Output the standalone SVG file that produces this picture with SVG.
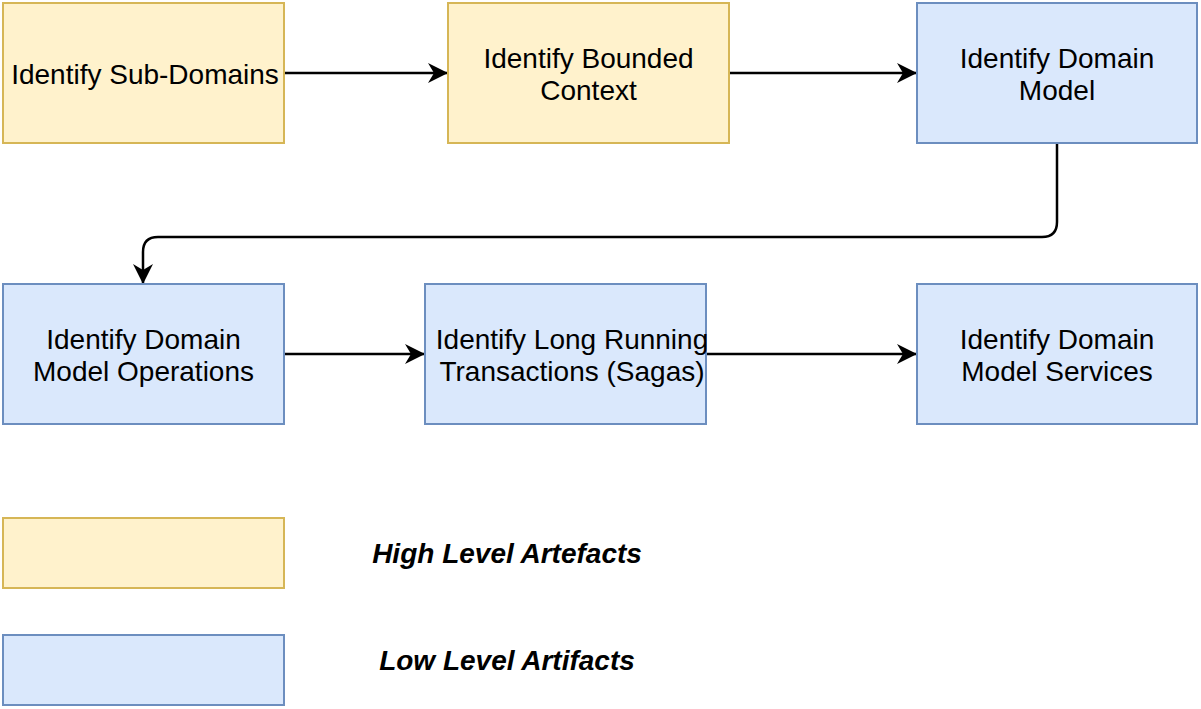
<svg xmlns="http://www.w3.org/2000/svg" width="1201" height="709" viewBox="0 0 1201 709">
<style>
.hi{fill:#fff2cc;stroke:#d6b656;stroke-width:2}
.lo{fill:#dae8fc;stroke:#6c8ebf;stroke-width:2}
.t{font-family:"Liberation Sans",Arial,sans-serif;font-size:28px;fill:#000;text-anchor:middle}
.lg{font-family:"Liberation Sans",Arial,sans-serif;font-size:28px;font-weight:bold;font-style:italic;fill:#000;text-anchor:middle}
.c{fill:none;stroke:#000;stroke-width:2.5}
</style>
<defs>
<marker id="ar" viewBox="0 0 20 20" refX="19" refY="10" markerWidth="20" markerHeight="20" markerUnits="userSpaceOnUse" orient="auto">
<path d="M0,0 L20,10 L0,20 L6,10 Z" fill="#000"/>
</marker>
</defs>
<rect width="1201" height="709" fill="#fff"/>
<g id="connectors">
<path class="c" d="M284,73 L447,73" marker-end="url(#ar)"/>
<path class="c" d="M729,73 L916,73" marker-end="url(#ar)"/>
<path class="c" d="M1057,143 L1057,222 Q1057,237 1042,237 L158,237 Q143,237 143,252 L143,283" marker-end="url(#ar)"/>
<path class="c" d="M284,354 L424,354" marker-end="url(#ar)"/>
<path class="c" d="M706,354 L916,354" marker-end="url(#ar)"/>
</g>
<g id="n1"><rect class="hi" x="3" y="3" width="281" height="140"/><text class="t" x="145" y="84">Identify Sub-Domains</text></g>
<g id="n2"><rect class="hi" x="448" y="3" width="281" height="140"/><text class="t" x="588.5" y="68">Identify Bounded</text><text class="t" x="588.5" y="100">Context</text></g>
<g id="n3"><rect class="lo" x="917" y="3" width="280" height="140"/><text class="t" x="1057" y="68">Identify Domain</text><text class="t" x="1057" y="100">Model</text></g>
<g id="n4"><rect class="lo" x="3" y="284" width="281" height="140"/><text class="t" x="143.5" y="349">Identify Domain</text><text class="t" x="143.5" y="381">Model Operations</text></g>
<g id="n5"><rect class="lo" x="425" y="284" width="281" height="140"/><text class="t" x="572" y="349">Identify Long Running</text><text class="t" x="572" y="381">Transactions (Sagas)</text></g>
<g id="n6"><rect class="lo" x="917" y="284" width="280" height="140"/><text class="t" x="1057" y="349">Identify Domain</text><text class="t" x="1057" y="381">Model Services</text></g>
<g id="legend-high"><rect class="hi" x="3" y="518" width="281" height="70"/><text class="lg" x="507" y="563">High Level Artefacts</text></g>
<g id="legend-low"><rect class="lo" x="3" y="635" width="281" height="70"/><text class="lg" x="507" y="670">Low Level Artifacts</text></g>
</svg>
